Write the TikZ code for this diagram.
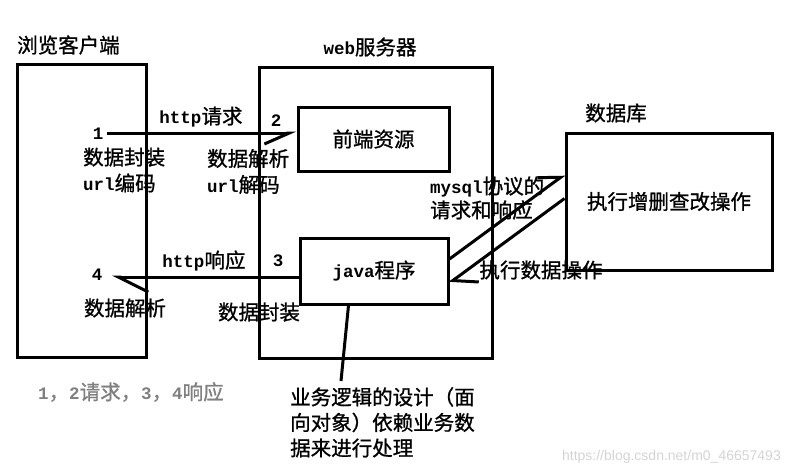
\documentclass[tikz,border=0pt]{standalone}
\usepackage{fontspec}
\setmainfont{Noto Sans CJK SC}[FakeBold=1]
\newfontfamily\enfont{Liberation Mono}
\newfontfamily\markfont{Liberation Sans}
\usetikzlibrary{positioning,arrows.meta,calc}
\newcommand{\en}[1]{{\enfont\bfseries\fontsize{17.5}{21}\selectfont #1}}
\definecolor{notegray}{HTML}{7F7F7F}
\definecolor{markgray}{HTML}{D4D4D4}

\tikzset{
  box/.style={draw, line width=3pt, inner sep=0pt},
  lbl/.style={inner sep=0pt, font=\fontsize{20.5}{26}\selectfont},
  wire/.style={line width=3pt},
}

\begin{document}
\begin{tikzpicture}[x=1pt, y=-1pt]
    \useasboundingbox (0,0) rectangle (787,475);
    % boxes
    \node[box, minimum width=129pt, minimum height=293pt] (client) at (81.5,210.5) {};
    \node[box, minimum width=233pt, minimum height=291pt] (server) at (375.5,212.5) {};
    \node[box, lbl, draw, minimum width=151pt, minimum height=64pt] (front) at (373.5,139) {前端资源};
    \node[box, lbl, draw, minimum width=148pt, minimum height=66pt] (java) at (374,271) {\en{java}程序};
    \node[box, lbl, draw, minimum width=206pt, minimum height=137pt] (db) at (669,201.5) {执行增删查改操作};
    % titles
    \node[lbl, anchor=west] (clientname) at (17,45) {浏览客户端};
    \node[lbl] (servername) at (370,47) {\en{web}服务器};
    \node[lbl] (dbname) at (616,113) {数据库};
    % request
    \node[lbl] (n1) at (98,134) {\en{1}};
    \node[lbl] (n2) at (276,121) {\en{2}};
    \node[lbl] (reqname) at (201,117) {\en{http}请求};
    \node[lbl, align=left, anchor=west] (pack) at (83,170) {数据封装\\\en{url}编码};
    \node[lbl, align=left, anchor=west] (parse) at (207,171.5) {数据解析\\\en{url}解码};
    \coordinate (req) at (107,133);
    \draw[wire, -{Straight Barb[harpoon,swap,length=25pt,width=22pt]}] (req) -- (req -| front.west);
    % response
    \node[lbl] (n4) at (97,275) {\en{4}};
    \node[lbl] (n3) at (278,261) {\en{3}};
    \node[lbl] (respname) at (204,261) {\en{http}响应};
    \node[lbl] (unpack) at (125,308) {数据解析};
    \node[lbl] (repack) at (259,312) {数据封装};
    \coordinate (resp) at (112,277);
    \draw[wire, -{Straight Barb[harpoon,length=30pt,width=30pt]}] (resp -| java.west) -- (resp);
    % database
    \node[lbl, align=left, anchor=west, font=\fontsize{20.5}{24}\selectfont] (mysql) at (430,198) {\en{mysql}协议的\\请求和响应};
    \node[lbl] (exec) at (541,270) {执行数据操作};
    \draw[wire, -{Straight Barb[harpoon,length=19pt,width=27pt]}] ([yshift=12pt]java.east) -- ([yshift=27pt]db.west);
    \draw[wire, -{Straight Barb[harpoon,length=20pt,width=33pt]}] ([yshift=3pt]db.west) -- ([yshift=-12pt]java.east);
    % notes
    \node[lbl, text=notegray, anchor=west] (order) at (38,392) {\en{1}，\en{2}请求，\en{3}，\en{4}响应};
    \node[lbl, align=left, anchor=north west, font=\fontsize{20.5}{25.5}\selectfont] (note) at (290,387) {业务逻辑的设计（面\\向对象）依赖业务数\\据来进行处理};
    \draw[wire] ([xshift=50pt]java.south west) -- ([xshift=51pt,yshift=6pt]note.north west);
    \node[inner sep=0pt, anchor=east, text=markgray, font=\markfont\fontsize{14}{16}\selectfont] (mark) at (781,457) {https://blog.csdn.net/m0\_46657493};
\end{tikzpicture}
\end{document}
